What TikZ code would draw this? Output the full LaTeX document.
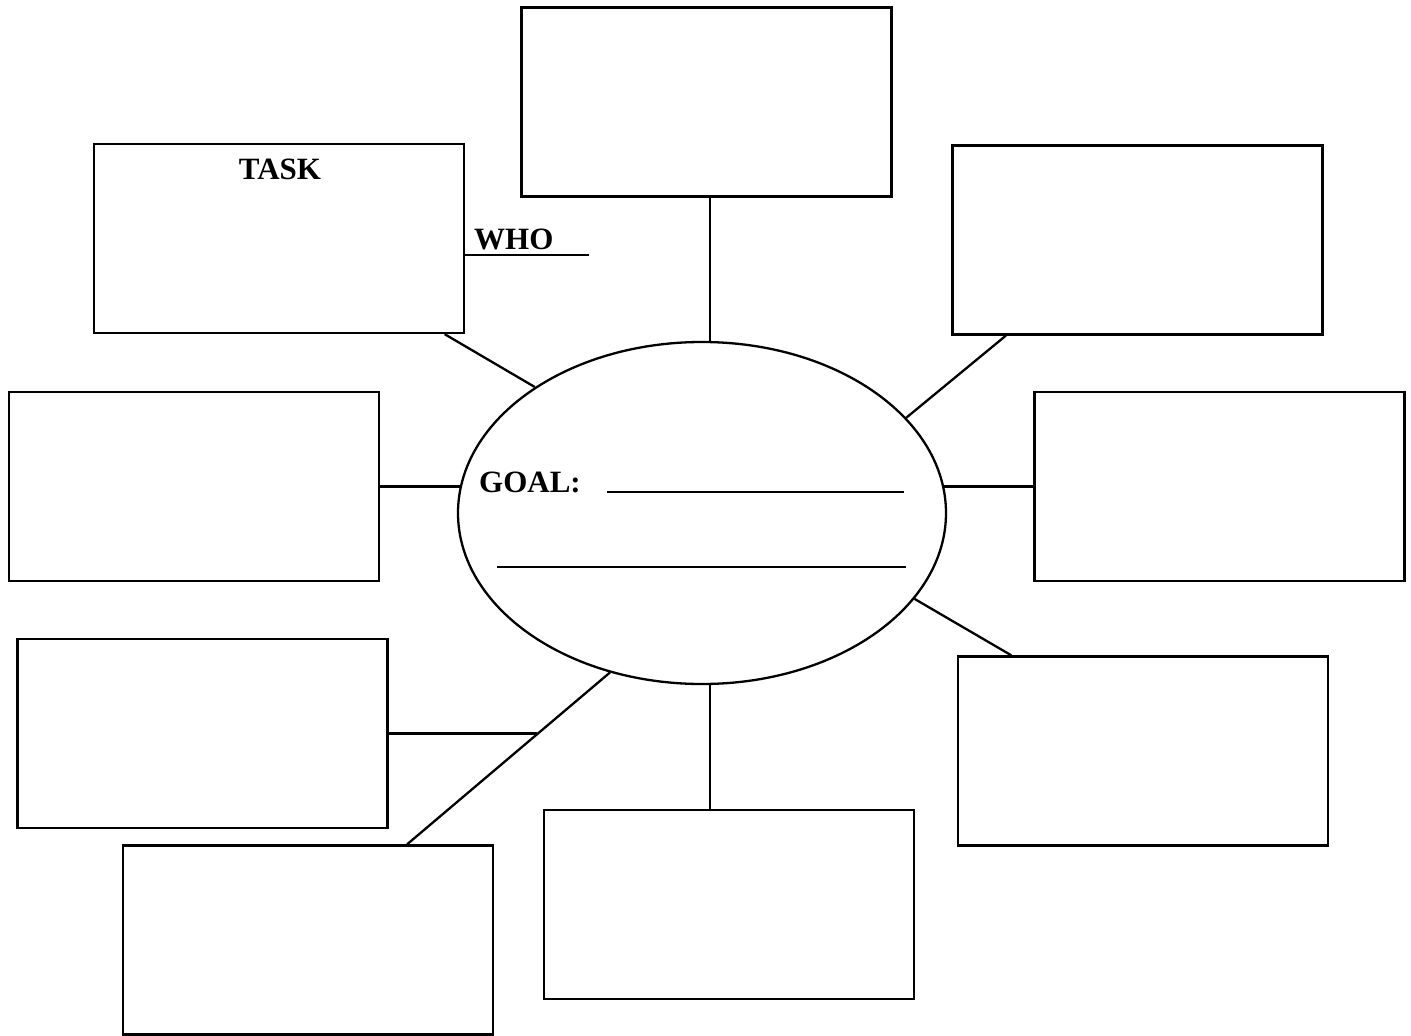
\documentclass[tikz,border=0pt]{standalone}
\usepackage{fontspec}
\setmainfont{Liberation Serif}
\usetikzlibrary{shapes.geometric,calc,backgrounds}
\begin{document}
\begin{tikzpicture}[x=1pt,y=-1pt,line width=2.3pt,
  boxnode/.style={draw,rectangle,minimum width=370pt,minimum height=189pt,inner sep=0pt},
  lbl/.style={inner sep=0pt,font=\fontsize{31}{37}\selectfont\bfseries},
  conn/.style={line cap=butt,line width=2.3pt}]
\useasboundingbox (0,0) rectangle (1411,1036);
% boxes
\node[boxnode] (b1) at (706.5,102) {};
\node[boxnode] (b2) at (279,238.5) {};
\node[boxnode] (b3) at (1137.5,240) {};
\node[boxnode] (b4) at (194,486.5) {};
\node[boxnode] (b5) at (1219.5,486.5) {};
\node[boxnode] (b6) at (202.5,733.5) {};
\node[boxnode] (b7) at (1143,751) {};
\node[boxnode] (b8) at (729,904.5) {};
\node[boxnode] (b9) at (308,940) {};
% ellipse (filled white, connectors lie behind it)
\node[draw,fill=white,ellipse,minimum width=488pt,minimum height=342pt,inner sep=0pt] (e) at (702,513) {};
% texts
\node[lbl,anchor=base] (task) at (280,179) {TASK};
\node[lbl,anchor=base west] (who) at (473,249) {WHO};
\node[lbl,anchor=base west] (goal) at (478,492) {GOAL:};
\coordinate (w) at (589,255);
\draw (b2.east |- w) -- (w);
\coordinate (g1a) at (607,492);
\coordinate (g1b) at (904,492);
\coordinate (g2a) at (497,567);
\coordinate (g2b) at (906,567);
\draw (g1a) -- (g1b);
\draw (g2a) -- (g2b);
% connectors
\begin{pgfonlayer}{background}
\draw[conn] (b1.-88.5) -- (b1.-88.5 |- e.center);
\draw[conn] (b2.-30.5) -- (e.143);
\draw[conn] (b3.-144.65) -- (e.25.1);
\draw[conn] (b4.east) -- (b4.east -| e.center);
\draw[conn] (b5.west) -- (b5.west -| e.center);
\draw[conn] (e.-22.7) -- (b7.144.95);
\draw[conn] (b1.-88.5 |- e.center) -- (b1.-88.5 |- b8.north);
\draw[conn] (e.-120.8) -- (b9.44.7);
\coordinate (j) at ($(e.-120.8)!0.3616!(b9.44.7)$);
\draw[conn] (b6.east) -- (b6.east -| j);
\end{pgfonlayer}
\end{tikzpicture}
\end{document}
